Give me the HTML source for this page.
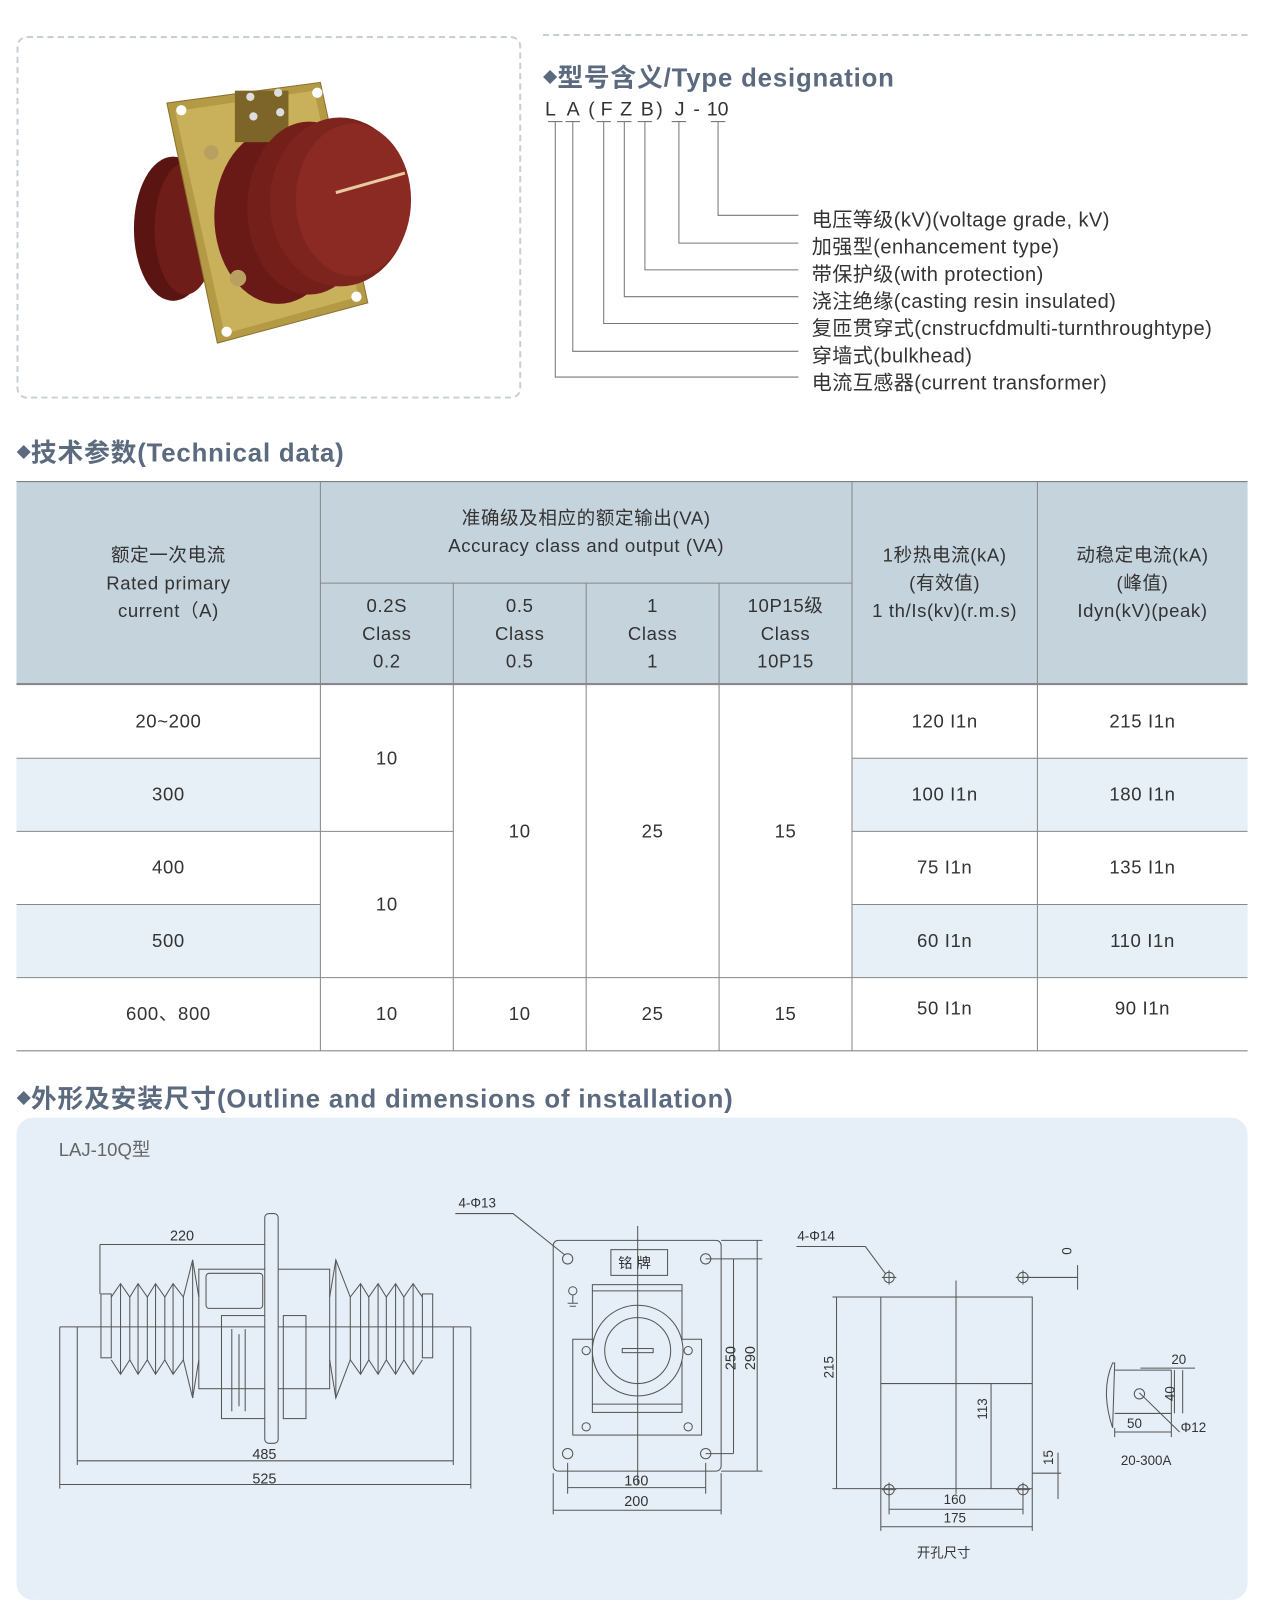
<!DOCTYPE html>
<html><head><meta charset="utf-8">
<style>
*{margin:0;padding:0;box-sizing:border-box}
html,body{width:1265px;height:1617px;overflow:hidden;background:#fff}
#w{position:absolute;left:0;top:0;width:1228px;height:1570px;transform:scale(1.0302);transform-origin:0 0;font-family:"Liberation Sans","Noto Sans CJK SC",sans-serif;color:#333}
.a{position:absolute;white-space:nowrap}
.h{font-weight:bold;font-size:25px;color:#5b6a7e;letter-spacing:0.8px}
.h i{font-style:normal;font-size:14px;vertical-align:4px;letter-spacing:0}
.c{position:absolute;display:flex;align-items:center;justify-content:center;text-align:center;font-size:18px;line-height:27px;color:#333;letter-spacing:0.6px}
.d{font-size:19.5px;color:#333;letter-spacing:0.4px}
</style></head><body><div id="w">
<div class="a" style="left:16px;top:35px;width:490px;height:352px;border:2px dashed #c9cfd6;border-radius:10px"></div>
<div class="a" style="left:527px;top:33px;width:684px;border-top:2px dashed #c9cfd6"></div>
<svg class="a" style="left:0;top:0" width="520" height="400">
<ellipse cx="168" cy="222" rx="38" ry="70" fill="#5a1512"/>
<ellipse cx="180" cy="222" rx="30" ry="64" fill="#6e1d18"/>
<polygon points="162,100 311,80 357,294 211,333" fill="#b49a45" stroke="#8a7230"/>
<polygon points="170,108 305,88 348,288 218,324" fill="#c9b05a"/>
<ellipse cx="270" cy="210" rx="62" ry="85" fill="#6a1a16"/>
<rect x="228" y="88" width="52" height="50" fill="#7d6428"/>
<ellipse cx="300" cy="202" rx="60" ry="84" fill="#741f1a"/>
<ellipse cx="330" cy="196" rx="68" ry="82" fill="#7e241e"/>
<ellipse cx="343" cy="194" rx="56" ry="74" fill="#8a2a22"/>
<line x1="326" y1="187" x2="393" y2="168" stroke="#e8c9a0" stroke-width="3"/>
<circle cx="176" cy="107" r="5" fill="#fff"/><circle cx="308" cy="90" r="5" fill="#fff"/>
<circle cx="346" cy="288" r="5" fill="#fff"/><circle cx="220" cy="322" r="5" fill="#fff"/>
<circle cx="243" cy="94" r="4" fill="#ddd"/><circle cx="270" cy="90" r="4" fill="#ddd"/>
<circle cx="246" cy="113" r="4" fill="#ddd"/><circle cx="272" cy="109" r="4" fill="#ddd"/>
<circle cx="205" cy="148" r="7" fill="#b8a060"/><circle cx="231" cy="270" r="8" fill="#b8a060"/>
</svg>
<div class="a h" style="left:527px;top:56px"><i>◆</i>型号含义/Type designation</div>
<div class="a" style="left:529px;top:96px;font-size:19px">
<span class="a" style="left:0">L</span><span class="a" style="left:21px">A</span><span class="a" style="left:42px">(</span><span class="a" style="left:54px">F</span><span class="a" style="left:73px">Z</span><span class="a" style="left:93px">B</span><span class="a" style="left:108px">)</span><span class="a" style="left:126px">J</span><span class="a" style="left:144px">-</span><span class="a" style="left:157px">10</span></div>
<svg class="a" style="left:520px;top:110px" width="300" height="270" fill="none" stroke="#777" stroke-width="1">
<path d="M12 8h14M29 8h14M59 8h14M79 8h14M99 8h14M132 8h14M170 8h14"/>
<path d="M19 8V256H255M36 8V231H255M66 8V204H255M86 8V178H255M106 8V152H255M139 8V126H255M177 8V99H255"/>
</svg>
<div class="a d" style="left:788px;top:197px">电压等级(kV)(voltage grade, kV)</div>
<div class="a d" style="left:788px;top:223px">加强型(enhancement type)</div>
<div class="a d" style="left:788px;top:250px">带保护级(with protection)</div>
<div class="a d" style="left:788px;top:276px">浇注绝缘(casting resin insulated)</div>
<div class="a d" style="left:788px;top:302px">复匝贯穿式(cnstrucfdmulti-turnthroughtype)</div>
<div class="a d" style="left:788px;top:329px">穿墙式(bulkhead)</div>
<div class="a d" style="left:788px;top:355px">电流互感器(current transformer)</div>

<div class="a h" style="left:16px;top:420px"><i>◆</i>技术参数(Technical data)</div>
<div class="a" style="left:16px;top:467px;width:1195px;height:198px;background:#c5d3dd;border-top:1px solid #777;border-bottom:2px solid #888"></div>
<div class="a" style="left:16px;top:736px;width:1195px;height:71px;background:#e7eff7"></div>
<div class="a" style="left:16px;top:878px;width:1195px;height:71px;background:#e7eff7"></div>
<div class="a" style="left:311px;top:666px;width:516px;height:283px;background:#fff"></div>
<svg class="a" style="left:0;top:0" width="1228" height="1030" fill="none" stroke="#888" stroke-width="1">
<path d="M311 467V1020M440 566V1020M569 566V1020M698 566V1020M827 467V1020M1007 467V1020M311 566H827"/>
<path d="M16 736H311M827 736H1211M16 807H440M827 807H1211M16 878H311M827 878H1211M16 949H1211M16 1020H1211"/>
</svg>
<div class="c" style="left:16px;top:467px;width:295px;height:198px">额定一次电流<br>Rated primary<br>current（A)</div>
<div class="c" style="left:311px;top:467px;width:516px;height:99px">准确级及相应的额定输出(VA)<br>Accuracy class and output (VA)</div>
<div class="c" style="left:311px;top:566px;width:129px;height:99px">0.2S<br>Class<br>0.2</div>
<div class="c" style="left:440px;top:566px;width:129px;height:99px">0.5<br>Class<br>0.5</div>
<div class="c" style="left:569px;top:566px;width:129px;height:99px">1<br>Class<br>1</div>
<div class="c" style="left:698px;top:566px;width:129px;height:99px">10P15级<br>Class<br>10P15</div>
<div class="c" style="left:827px;top:467px;width:180px;height:198px">1秒热电流(kA)<br>(有效值)<br>1 th/Is(kv)(r.m.s)</div>
<div class="c" style="left:1007px;top:467px;width:204px;height:198px">动稳定电流(kA)<br>(峰值)<br>Idyn(kV)(peak)</div>
<div class="c" style="left:16px;top:665px;width:295px;height:71px">20~200</div>
<div class="c" style="left:16px;top:736px;width:295px;height:71px">300</div>
<div class="c" style="left:16px;top:807px;width:295px;height:71px">400</div>
<div class="c" style="left:16px;top:878px;width:295px;height:71px">500</div>
<div class="c" style="left:16px;top:949px;width:295px;height:71px">600、800</div>
<div class="c" style="left:311px;top:665px;width:129px;height:142px">10</div>
<div class="c" style="left:311px;top:807px;width:129px;height:142px">10</div>
<div class="c" style="left:440px;top:665px;width:129px;height:284px">10</div>
<div class="c" style="left:569px;top:665px;width:129px;height:284px">25</div>
<div class="c" style="left:698px;top:665px;width:129px;height:284px">15</div>
<div class="c" style="left:311px;top:949px;width:129px;height:71px">10</div>
<div class="c" style="left:440px;top:949px;width:129px;height:71px">10</div>
<div class="c" style="left:569px;top:949px;width:129px;height:71px">25</div>
<div class="c" style="left:698px;top:949px;width:129px;height:71px">15</div>
<div class="c" style="left:827px;top:665px;width:180px;height:71px">120 I1n</div>
<div class="c" style="left:827px;top:736px;width:180px;height:71px">100 I1n</div>
<div class="c" style="left:827px;top:807px;width:180px;height:71px">75 I1n</div>
<div class="c" style="left:827px;top:878px;width:180px;height:71px">60 I1n</div>
<div class="c" style="left:827px;top:949px;width:180px;height:60px">50 I1n</div>
<div class="c" style="left:1007px;top:665px;width:204px;height:71px">215 I1n</div>
<div class="c" style="left:1007px;top:736px;width:204px;height:71px">180 I1n</div>
<div class="c" style="left:1007px;top:807px;width:204px;height:71px">135 I1n</div>
<div class="c" style="left:1007px;top:878px;width:204px;height:71px">110 I1n</div>
<div class="c" style="left:1007px;top:949px;width:204px;height:60px">90 I1n</div>

<div class="a h" style="left:16px;top:1047px"><i>◆</i>外形及安装尺寸(Outline and dimensions of installation)</div>
<div class="a" style="left:16px;top:1085px;width:1195px;height:468px;background:#e6eff7;border-radius:16px"></div>
<div class="a" style="left:57px;top:1102px;font-size:18px;color:#666">LAJ-10Q型</div>
<svg class="a" style="left:0;top:0" width="1228" height="1570" fill="none" stroke="#555" stroke-width="1" font-family="Liberation Sans,Noto Sans CJK SC,sans-serif" font-size="13">
<g>
<path d="M58 1288H457M58 1288V1445M75 1288V1422M440 1288V1422M457 1288V1445M58 1441H457M75 1418H440M97 1208H258M97 1208V1256"/>
<rect x="98" y="1256" width="10" height="62"/><rect x="410" y="1256" width="10" height="62"/>
<path d="M108 1259L117 1246L126 1259L134 1246L143 1259L151 1246L160 1259L168 1246L178 1259L187 1223L193 1259M108 1320L117 1334L126 1320L134 1334L143 1320L151 1334L160 1320L168 1334L178 1320L187 1357L193 1320"/>
<path d="M117 1246V1334M126 1259V1320M134 1246V1334M143 1259V1320M151 1246V1334M160 1259V1320M168 1246V1334M178 1259V1320M187 1223V1357"/>
<path d="M410 1259L401 1246L392 1259L384 1246L375 1259L367 1246L358 1259L350 1246L340 1259L326 1223L320 1259M410 1320L401 1334L392 1320L384 1334L375 1320L367 1334L358 1320L350 1334L340 1320L326 1357L320 1320"/>
<path d="M401 1246V1334M392 1259V1320M384 1246V1334M375 1259V1320M367 1246V1334M358 1259V1320M350 1246V1334M340 1259V1320M326 1223V1357"/>
<rect x="193" y="1232" width="127" height="116"/>
<rect x="200" y="1236" width="55" height="34" rx="3"/>
<rect x="215" y="1277" width="43" height="100"/><rect x="275" y="1277" width="22" height="100"/>
<rect x="257" y="1178" width="13" height="223" rx="4" fill="#e6eff7"/>
<path d="M225 1290V1370M232 1295V1365M238 1290V1370"/>
<text x="165" y="1204" stroke="none" fill="#333" font-size="14">220</text>
<text x="245" y="1416" stroke="none" fill="#333" font-size="14">485</text>
<text x="245" y="1440" stroke="none" fill="#333" font-size="14">525</text>
</g>
<g>
<path d="M442 1178H498L548 1218"/>
<rect x="537" y="1204" width="163" height="224" rx="5"/>
<circle cx="551" cy="1222" r="5"/><circle cx="685" cy="1222" r="5"/><circle cx="551" cy="1411" r="5"/><circle cx="685" cy="1411" r="5"/>
<rect x="593" y="1213" width="55" height="25"/>
<path d="M619 1190V1440"/>
<rect x="575" y="1247" width="87" height="124"/><path d="M575 1253H662M575 1363H662"/>
<rect x="556" y="1300" width="125" height="93"/>
<circle cx="619" cy="1311" r="44" fill="#e6eff7"/><circle cx="619" cy="1311" r="32"/>
<rect x="604" y="1309" width="30" height="4"/><path d="M619 1267V1355"/>
<circle cx="569" cy="1311" r="4"/><circle cx="668" cy="1311" r="4"/><circle cx="569" cy="1385" r="4"/><circle cx="668" cy="1385" r="4"/>
<circle cx="556" cy="1253" r="4"/><path d="M556 1257V1265M551 1265H561M553 1268H559"/>
<path d="M685 1222H740M712 1222V1411M685 1411H712M700 1204H740M735 1204V1428M700 1428H740M551 1420V1450M685 1420V1450M551 1444H685M537 1430V1470M700 1430V1470M537 1466H700"/>
<text x="445" y="1172" stroke="none" fill="#333">4-Φ13</text>
<text x="600" y="1231" stroke="none" fill="#333" font-size="14">铭 牌</text>
<text transform="translate(714,1330) rotate(-90)" stroke="none" fill="#333" font-size="14">250</text>
<text transform="translate(733,1330) rotate(-90)" stroke="none" fill="#333" font-size="14">290</text>
<text x="606" y="1442" stroke="none" fill="#333" font-size="14">160</text>
<text x="606" y="1462" stroke="none" fill="#333" font-size="14">200</text>
</g>
<g>
<path d="M773 1210H840L860 1237"/>
<circle cx="863" cy="1240" r="5"/><circle cx="993" cy="1240" r="5"/><circle cx="863" cy="1446" r="5"/><circle cx="993" cy="1446" r="5"/>
<path d="M856 1240H870M863 1233V1247M986 1240H1000M993 1233V1247M856 1446H870M863 1439V1453M986 1446H1000M993 1439V1453"/>
<rect x="855" y="1259" width="147" height="186"/>
<path d="M855 1343H1002M928 1243V1450M808 1259H855M812 1259V1445M808 1445H855M928 1343H966M962 1343V1445M993 1240H1046M1046 1228V1252M1002 1430H1030M1027 1410V1455M863 1450V1470M993 1450V1470M863 1465H993M855 1445V1486M1002 1445V1486M855 1482H1002"/>
<text x="774" y="1204" stroke="none" fill="#333">4-Φ14</text>
<text transform="translate(1040,1218) rotate(-90)" stroke="none" fill="#333">0</text>
<text transform="translate(809,1338) rotate(-90)" stroke="none" fill="#333">215</text>
<text transform="translate(958,1378) rotate(-90)" stroke="none" fill="#333">113</text>
<text transform="translate(1022,1422) rotate(-90)" stroke="none" fill="#333">15</text>
<text x="916" y="1460" stroke="none" fill="#333">160</text>
<text x="916" y="1478" stroke="none" fill="#333">175</text>
<text x="890" y="1512" stroke="none" fill="#333">开孔尺寸</text>
</g>
<g>
<path d="M1080 1323Q1068 1350 1080 1386L1082 1323Z"/>
<path d="M1082 1330H1137M1082 1372H1137M1137 1330V1372M1082 1386V1395M1137 1372V1395M1082 1390H1137M1107 1328H1160M1140 1330V1372M1148 1330V1372M1106 1352L1145 1390"/>
<circle cx="1106" cy="1353" r="5"/>
<text x="1137" y="1324" stroke="none" fill="#333">20</text>
<text transform="translate(1140,1360) rotate(-90)" stroke="none" fill="#333">40</text>
<text x="1094" y="1386" stroke="none" fill="#333">50</text>
<text x="1146" y="1390" stroke="none" fill="#333">Φ12</text>
<text x="1088" y="1422" stroke="none" fill="#333">20-300A</text>
</g>
</svg>
</div></body></html>
